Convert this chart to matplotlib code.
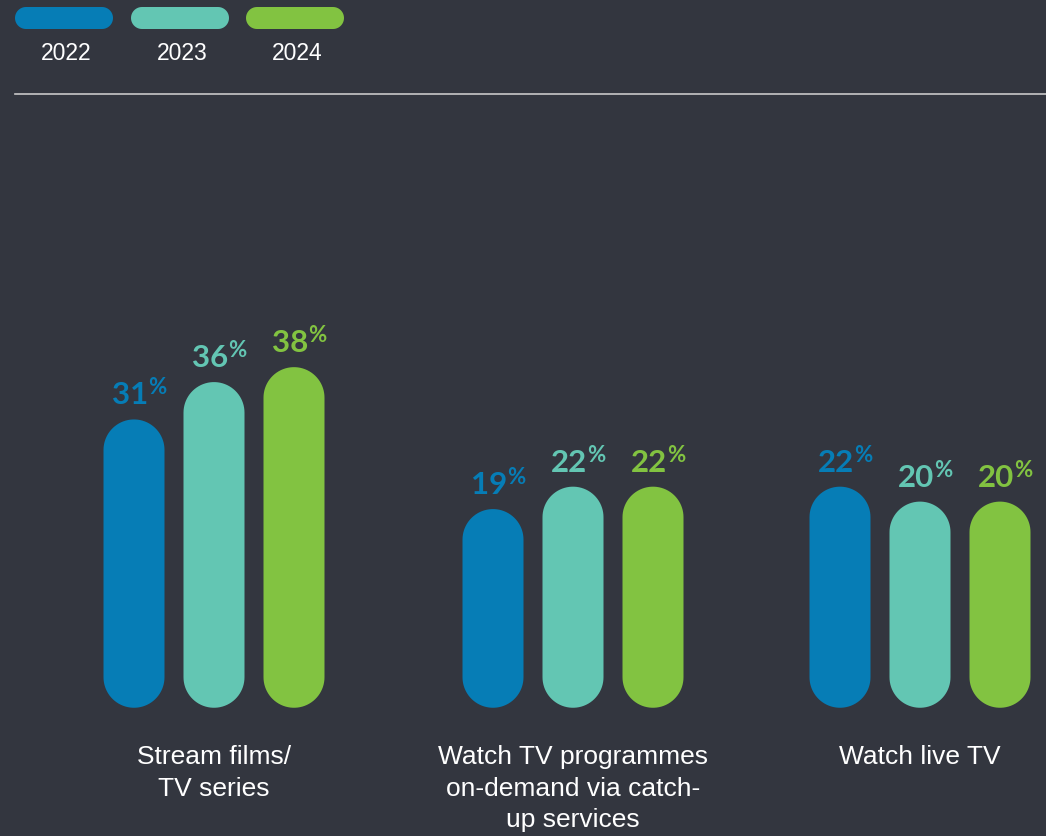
import numpy as np
import matplotlib
matplotlib.use("Agg")
import matplotlib.pyplot as plt
from matplotlib.patches import Polygon

# data
years = ["2022", "2023", "2024"]
categories = ["Stream films/\nTV series",
              "Watch TV programmes\non-demand via catch-\nup services",
              "Watch live TV"]
share_2022 = [31, 19, 22]
share_2023 = [36, 22, 20]
share_2024 = [38, 22, 20]

colors = ["#067db6", "#63c6b3", "#82c341"]
bg = "#33363f"

W, H = 1046, 836
px_per_unit = 7.47           # vertical scale, pixels per percentage point
zero_px = 651                # pixel row of 0 %
base = -7.6                  # pills start slightly below zero
group_x = [214, 573, 920]    # group centres (pixels)
step = 80
bar_w = 61


def pill(axis, x0, y0, w, h, color, yscale=1.0):
    """Capsule with semicircular ends. x in pixels, y in data units,
    yscale = pixels per y unit."""
    r = w / 2.0
    ry = r / yscale
    t = np.linspace(0, np.pi, 40)
    cx = x0 + r
    top_c = y0 + h - ry
    bot_c = y0 + ry
    xs_top = cx + r * np.cos(t)
    ys_top = top_c + ry * np.sin(t)
    xs_bot = cx - r * np.cos(t)
    ys_bot = bot_c - ry * np.sin(t)
    pts = np.column_stack([np.r_[xs_top, xs_bot], np.r_[ys_top, ys_bot]])
    axis.add_patch(Polygon(pts, closed=True, fc=color, ec="none"))


fig = plt.figure(figsize=(W / 100, H / 100), dpi=100)
fig.patch.set_facecolor(bg)

# bar axes: x in pixels, y in percent
ax = fig.add_axes([0, 0, 1, 1])
ax.set_facecolor(bg)
ax.set_xlim(0, W)
ax.set_ylim((zero_px - H) / px_per_unit, zero_px / px_per_unit)
ax.axis("off")

series = [share_2022, share_2023, share_2024]
for k, vals in enumerate(series):
    for g, v in enumerate(vals):
        cx = group_x[g] + (k - 1) * step
        pill(ax, cx - bar_w / 2, base, bar_w, v - base, colors[k], px_per_unit)
        ty = v + 15 / px_per_unit
        ax.text(cx + 14, ty, str(v), ha="right", va="baseline",
                fontsize=22.5, fontweight="bold", family="Lato", color=colors[k])
        ax.text(cx + 14.5, ty + 10 / px_per_unit, "%", ha="left", va="baseline",
                fontsize=16, fontweight="bold", family="Lato", color=colors[k])

# decoration axes in pixel coordinates
deco = fig.add_axes([0, 0, 1, 1])
deco.patch.set_alpha(0)
deco.set_xlim(0, W)
deco.set_ylim(H, 0)
deco.axis("off")

# legend: horizontal capsules with year underneath
leg_x = [15, 131, 246]
for k, yr in enumerate(years):
    r = 11
    t = np.linspace(-np.pi / 2, np.pi / 2, 30)
    xr = leg_x[k] + 98 - r + r * np.cos(t)
    yr_ = 18 + r * np.sin(t)
    xl = leg_x[k] + r - r * np.cos(t)
    yl = 18 - r * np.sin(t)
    deco.add_patch(Polygon(np.column_stack([np.r_[xr, xl], np.r_[yr_, yl]]),
                           closed=True, fc=colors[k], ec="none"))
    deco.text(leg_x[k] + 51, 53, yr, ha="center", va="center",
              fontsize=16.5, family="Liberation Sans", color="white")

deco.plot([15, W], [94, 94], color="#c8c8c8", lw=1.2)

for g, lab in enumerate(categories):
    deco.text(group_x[g], 745, lab, ha="center", va="top", fontsize=19,
              family="Liberation Sans", color="white", linespacing=1.4)

fig.savefig("out.png", dpi=100, facecolor=bg)
